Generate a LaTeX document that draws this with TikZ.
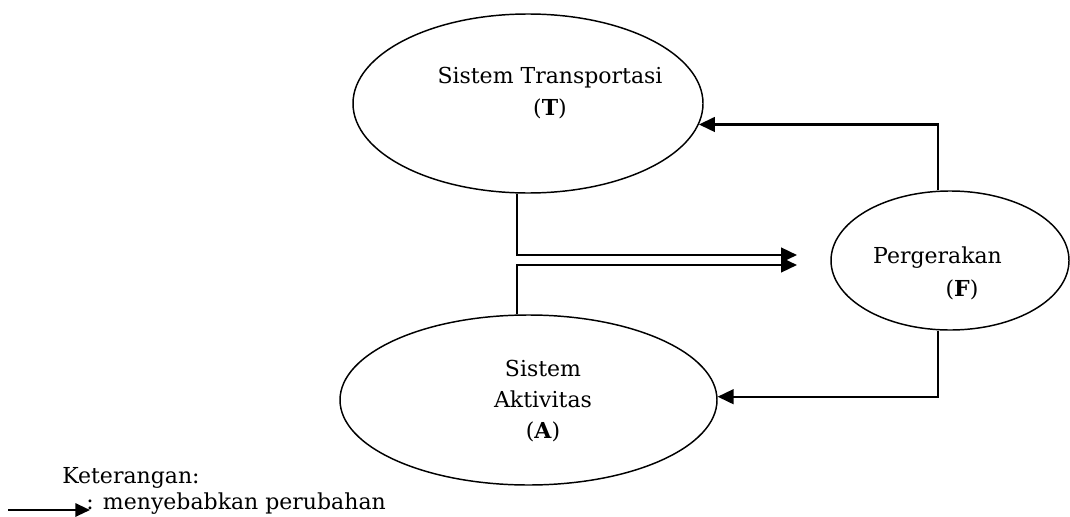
\documentclass[tikz,border=0pt]{standalone}
\usepackage{fontspec}
\setmainfont{DejaVu Serif}
\usetikzlibrary{shapes.geometric,arrows.meta,calc}
\newdimen\px \px=0.75pt
\tikzset{
  oval/.style={draw, ellipse, line width=1.1pt, inner sep=0pt},
  lbl/.style={inner sep=0pt, font=\fontsize{16.5}{24}\selectfont, align=center},
  conn/.style={line width=1.8pt, -{Triangle[length=12pt,width=11pt]}}
}
\begin{document}
\begin{tikzpicture}[x=0.75pt,y=-0.75pt]
\useasboundingbox (0,0) rectangle (1070,517);
% ellipses
\node[oval, minimum width=350\px, minimum height=179\px] (T) at (528,103.5) {};
\node[oval, minimum width=238\px, minimum height=139\px] (F) at (950,260.5) {};
\node[oval, minimum width=377\px, minimum height=170\px] (A) at (528.5,400) {};
% texts
\node[lbl] (Tt) at (550,93.5) {Sistem Transportasi\\(\textbf{T})};
\node[lbl] (Ft1) at (937.5,258) {Pergerakan};
\node[lbl] (Ft2) at (962,290) {(\textbf{F})};
\node[lbl, font=\fontsize{16.5}{23.25}\selectfont] (At) at (543,401) {Sistem\\Aktivitas\\(\textbf{A})};
% double arrow towards F
\coordinate (tip1) at (797,255);
\coordinate (tip2) at (797,265);
\draw[conn] ($(T.south)+(-11,0)$) |- (tip1);
\draw[conn] ($(A.north)+(-11.5,0)$) |- (tip2);
% F -> T
\draw[conn] ($(F.north)+(-12,0)$) |- (T.-7.5);
% F -> A
\draw[conn] ($(F.south)+(-12,0)$) |- (A.1.5);
% legend
\node[lbl, anchor=base west] (ket) at (62,483) {Keterangan:};
\node[lbl, anchor=base west] (ketx) at (86,509) {: menyebabkan perubahan};
\coordinate (l1) at (8,510);
\coordinate (l2) at (90,510);
\draw[line width=1.5pt, -{Triangle[length=11pt,width=10pt]}] (l1) -- (l2);
\end{tikzpicture}
\end{document}
